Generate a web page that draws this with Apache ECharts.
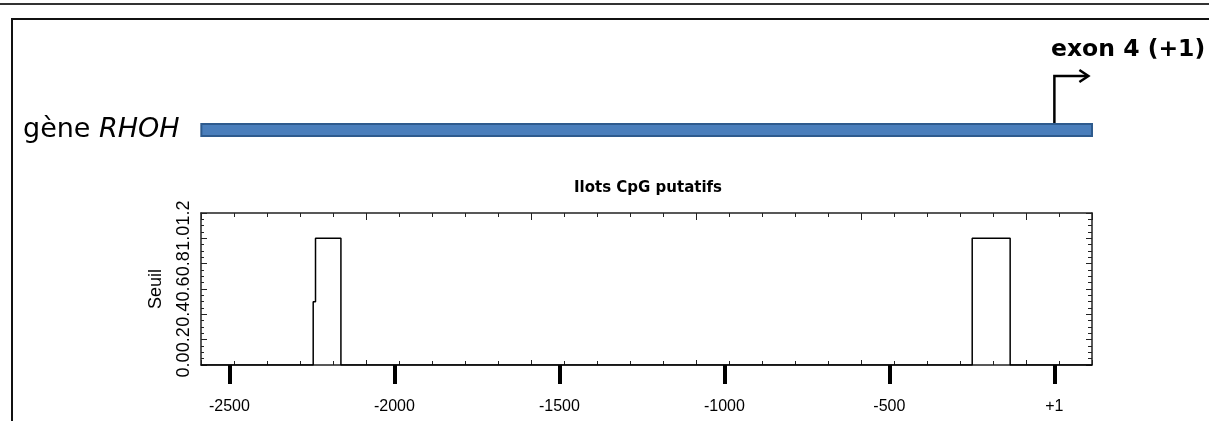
<!DOCTYPE html>
<html>
<head>
<meta charset="utf-8">
<script src="https://cdn.jsdelivr.net/npm/echarts@6.0.0/dist/echarts.min.js"></script>
<style>
html,body{margin:0;padding:0;background:#fff;}
#chart{width:1209px;height:421px;}
</style>
</head>
<body>
<div id="chart"></div>
<script>
// ---- Data ----
// CpG island profile (internal plot coordinate, 0..2700 bp) and threshold value
const profilePos   = [0, 340, 340, 347, 347, 424, 424, 2337, 2337, 2452, 2452, 2700];
const profileSeuil = [0, 0,   0.5, 0.5, 1,   1,   0,   0,    1,    1,    0,    0];
// Position axis relative to exon 4 (+1)
const posTicks = [-2500, -2000, -1500, -1000, -500, 0];
const posTickLabels = ['-2500', '-2000', '-1500', '-1000', '-500', '+1'];
const posOffset = 2586;            // internal coordinate of position +1
const internalMax = 2700;
// Gene RHOH extent (relative positions) and transcription start (+1)
const geneStart = -2585;
const geneEnd = 114;
const tssPos = 0;
const arrowEnd = 100;
// Y ticks
const seuilTicks = [0.0, 0.2, 0.4, 0.6, 0.8, 1.0, 1.2];

const profileData = profilePos.map((p, i) => [p, profileSeuil[i]]);

const chart = echarts.init(document.getElementById('chart'), null, {renderer: 'canvas'});
const axisCol = '#222';
const labFont = 'Liberation Sans';
const plotRect = {left: 201, right: 117, top: 213, height: 152, outerBoundsMode: 'none', containLabel: false};

const option = {
  backgroundColor: '#ffffff',
  animation: false,
  grid: [
    Object.assign({}, plotRect),
    Object.assign({}, plotRect),
    Object.assign({}, plotRect),
    {left: 201, right: 117, top: 76, height: 54, outerBoundsMode: 'none', containLabel: false}
  ],
  xAxis: [
    { // internal bottom
      type: 'value', gridIndex: 0, min: 0, max: internalMax, interval: 500, position: 'bottom',
      axisLine: {show: true, onZero: false, lineStyle: {color: axisCol, width: 1.5}},
      axisTick: {show: true, inside: true, length: 5, lineStyle: {color: axisCol, width: 1}},
      minorTick: {show: true, splitNumber: 5, length: 4, lineStyle: {color: axisCol, width: 1}},
      axisLabel: {show: false}, splitLine: {show: false}, minorSplitLine: {show: false}
    },
    { // internal top
      type: 'value', gridIndex: 1, min: 0, max: internalMax, interval: 500, position: 'top',
      axisLine: {show: true, onZero: false, lineStyle: {color: axisCol, width: 1.5}},
      axisTick: {show: true, inside: true, length: 7, lineStyle: {color: axisCol, width: 1}},
      minorTick: {show: true, splitNumber: 5, length: 4, lineStyle: {color: axisCol, width: 1}},
      axisLabel: {show: false}, splitLine: {show: false}, minorSplitLine: {show: false}
    },
    { // positions relative to +1
      type: 'value', gridIndex: 2, min: -posOffset, max: internalMax - posOffset, position: 'bottom',
      axisLine: {show: false, onZero: false},
      axisTick: {show: true, inside: false, length: 19, customValues: posTicks,
                 lineStyle: {color: '#000', width: 4}},
      axisLabel: {show: true, customValues: posTicks, margin: 34,
                  fontFamily: labFont, fontSize: 16, color: '#000',
                  formatter: v => posTickLabels[posTicks.indexOf(v)] ?? String(v)},
      splitLine: {show: false}
    },
    { // gene diagram axis
      type: 'value', gridIndex: 3, min: -posOffset, max: internalMax - posOffset, show: false
    }
  ],
  yAxis: [
    {
      type: 'value', gridIndex: 0, min: 0, max: 1.2, interval: 0.2, position: 'left',
      name: 'Seuil', nameLocation: 'middle', nameGap: 36, nameRotate: 90,
      nameTextStyle: {fontFamily: labFont, fontSize: 18, color: '#000'},
      axisLine: {show: true, onZero: false, lineStyle: {color: axisCol, width: 1.5}},
      axisTick: {show: true, inside: true, length: 6, lineStyle: {color: axisCol, width: 1}},
      minorTick: {show: true, splitNumber: 4, length: 3, lineStyle: {color: axisCol, width: 1}},
      axisLabel: {show: true, rotate: 90, margin: 8, fontFamily: labFont, fontSize: 18, color: '#000',
                  showMinLabel: true, showMaxLabel: true, hideOverlap: false,
                  customValues: seuilTicks,
                  formatter: v => Number(v).toFixed(1)},
      splitLine: {show: false}, minorSplitLine: {show: false}
    },
    {
      type: 'value', gridIndex: 1, min: 0, max: 1.2, interval: 0.2, position: 'right',
      axisLine: {show: true, onZero: false, lineStyle: {color: axisCol, width: 1.5}},
      axisTick: {show: true, inside: true, length: 6, lineStyle: {color: axisCol, width: 1}},
      minorTick: {show: true, splitNumber: 4, length: 4, lineStyle: {color: axisCol, width: 1}},
      axisLabel: {show: false}, splitLine: {show: false}, minorSplitLine: {show: false}
    },
    {
      type: 'value', gridIndex: 2, min: 0, max: 1.2, show: false
    },
    {
      type: 'value', gridIndex: 3, min: 0, max: 1, show: false
    }
  ],
  series: [
    {
      name: 'Ilots CpG putatifs', type: 'line', xAxisIndex: 0, yAxisIndex: 0,
      data: profileData, showSymbol: false, symbol: 'none', silent: true,
      lineStyle: {color: '#000', width: 1.5}, z: 3
    },
    {
      type: 'custom', xAxisIndex: 3, yAxisIndex: 3, silent: true, z: 2,
      data: [[tssPos, 0, 1, arrowEnd]],
      encode: {x: [0, 3], y: [1, 2]},
      renderItem: function (params, api) {
        const p0 = api.coord([api.value(0), api.value(1)]);
        const p1 = api.coord([api.value(0), api.value(2)]);
        const p2 = api.coord([api.value(3), api.value(2)]);
        return {
          type: 'group',
          children: [
            {type: 'polyline', shape: {points: [p0, p1, p2]},
             style: {stroke: '#000', lineWidth: 2.5, fill: null}},
            {type: 'polyline', shape: {points: [[p2[0] - 8, p2[1] - 6], [p2[0] + 1, p2[1]], [p2[0] - 8, p2[1] + 6]]},
             style: {stroke: '#000', lineWidth: 2.5, fill: null}}
          ]
        };
      }
    },
    {
      type: 'custom', xAxisIndex: 3, yAxisIndex: 3, silent: true, z: 4,
      data: [[geneStart, geneEnd, 0]],
      encode: {x: [0, 1], y: 2},
      renderItem: function (params, api) {
        const s = api.coord([api.value(0), api.value(2)]);
        const e = api.coord([api.value(1), api.value(2)]);
        return {
          type: 'rect',
          shape: {x: s[0], y: s[1] - 6, width: e[0] - s[0], height: 12},
          style: {fill: '#4a7ebb', stroke: '#2e5b8e', lineWidth: 2}
        };
      }
    }
  ],
  graphic: [
    {type: 'line', shape: {x1: 0, y1: 4, x2: 1209, y2: 4}, style: {stroke: '#333', lineWidth: 2}, silent: true},
    {type: 'polyline', shape: {points: [[12, 421], [12, 19], [1209, 19]]}, style: {stroke: '#111', lineWidth: 2, fill: null}, silent: true},
    {type: 'text', x: 23, y: 130, silent: true,
     style: {text: '{a|gène }{b|RHOH}', verticalAlign: 'middle', align: 'left',
             rich: {a: {fontFamily: 'DejaVu Sans', fontSize: 27, fill: '#000', color: '#000'},
                    b: {fontFamily: 'DejaVu Sans', fontSize: 27, fontStyle: 'italic', fill: '#000', color: '#000'}}}},
    {type: 'text', x: 1051, y: 50, silent: true,
     style: {text: 'exon 4 (+1)', fontFamily: 'DejaVu Sans', fontWeight: 'bold', fontSize: 23.5,
             fill: '#000', verticalAlign: 'middle', align: 'left'}},
    {type: 'text', x: 648, y: 188, silent: true,
     style: {text: 'Ilots CpG putatifs', fontFamily: 'DejaVu Sans', fontWeight: 'bold', fontSize: 15,
             fill: '#000', verticalAlign: 'middle', align: 'center'}}
  ]
};
chart.setOption(option);
</script>
</body>
</html>
